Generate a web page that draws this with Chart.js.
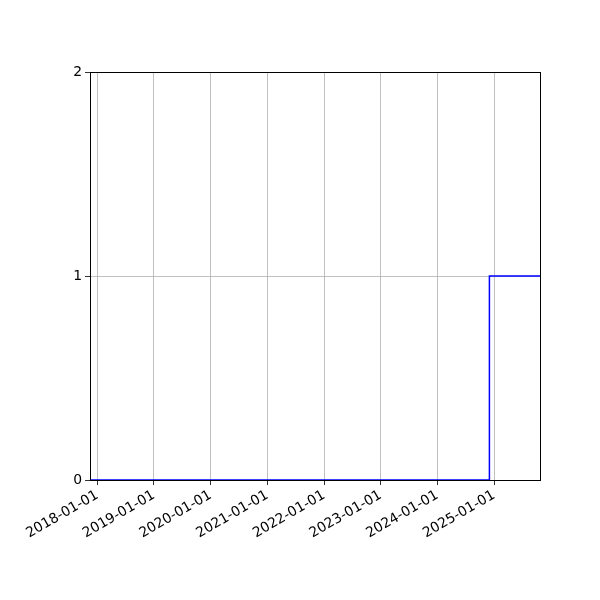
<!DOCTYPE html>
<html>
<head>
<meta charset="utf-8">
<script src="https://cdn.jsdelivr.net/npm/chart.js@4/dist/chart.umd.min.js"></script>
<style>
html,body{margin:0;padding:0;background:#fff;}
#wrap{width:600px;height:600px;}
</style>
</head>
<body>
<div id="wrap"><canvas id="c" width="600" height="600"></canvas></div>
<script>
// Data
const dates = ['2017-11-15', '2024-12-02', '2025-10-24'];
const values = [0, 1, 1];
const xTickLabels = ['2018-01-01','2019-01-01','2020-01-01','2021-01-01','2022-01-01','2023-01-01','2024-01-01','2025-01-01'];
const yTickValues = [0, 1, 2];
const xRange = ['2017-11-15', '2025-10-24'];

const toMs = s => Date.parse(s + 'T00:00:00Z');
const fmt = ms => new Date(ms).toISOString().slice(0, 10);

const points = dates.map((d, i) => ({x: toMs(d), y: values[i]}));

const framePlugin = {
  id: 'frame',
  afterDraw(chart) {
    const {ctx, chartArea: a} = chart;
    ctx.save();
    ctx.strokeStyle = '#000';
    ctx.lineWidth = 1;
    ctx.strokeRect(Math.round(a.left) + 0.5, Math.round(a.top) + 0.5, Math.round(a.right - a.left), Math.round(a.bottom - a.top));
    ctx.restore();
  }
};

const font = {family: '"DejaVu Sans", sans-serif', size: 13.9};

new Chart(document.getElementById('c'), {
  type: 'line',
  data: {
    datasets: [{
      data: points,
      borderColor: '#0000ff',
      borderWidth: 1.5,
      pointRadius: 0,
      stepped: 'before',
      fill: false
    }]
  },
  options: {
    responsive: false,
    animation: false,
    devicePixelRatio: 1,
    layout: {padding: {top: 72, right: 60, left: 0, bottom: 0}},
    plugins: {legend: {display: false}, tooltip: {enabled: false}},
    scales: {
      x: {
        type: 'linear',
        min: toMs(xRange[0]),
        max: toMs(xRange[1]),
        afterBuildTicks(scale) {
          scale.ticks = xTickLabels.map(l => ({value: toMs(l)}));
        },
        afterFit(scale) { scale.height = 120; },
        ticks: {
          autoSkip: false,
          maxRotation: 30,
          minRotation: 30,
          color: '#000',
          font: font,
          padding: 2,
          callback: v => fmt(v)
        },
        grid: {color: '#b0b0b0', lineWidth: 0.8, tickColor: '#000', tickLength: 5, drawTicks: true},
        border: {display: false}
      },
      y: {
        type: 'linear',
        min: 0,
        max: 2,
        afterBuildTicks(scale) {
          scale.ticks = yTickValues.map(v => ({value: v}));
        },
        afterFit(scale) { scale.width = 90; },
        ticks: {color: '#000', font: font, padding: 3, callback: v => String(v)},
        grid: {color: '#b0b0b0', lineWidth: 0.8, tickColor: '#000', tickLength: 5, drawTicks: true},
        border: {display: false}
      }
    }
  },
  plugins: [framePlugin]
});
</script>
</body>
</html>
